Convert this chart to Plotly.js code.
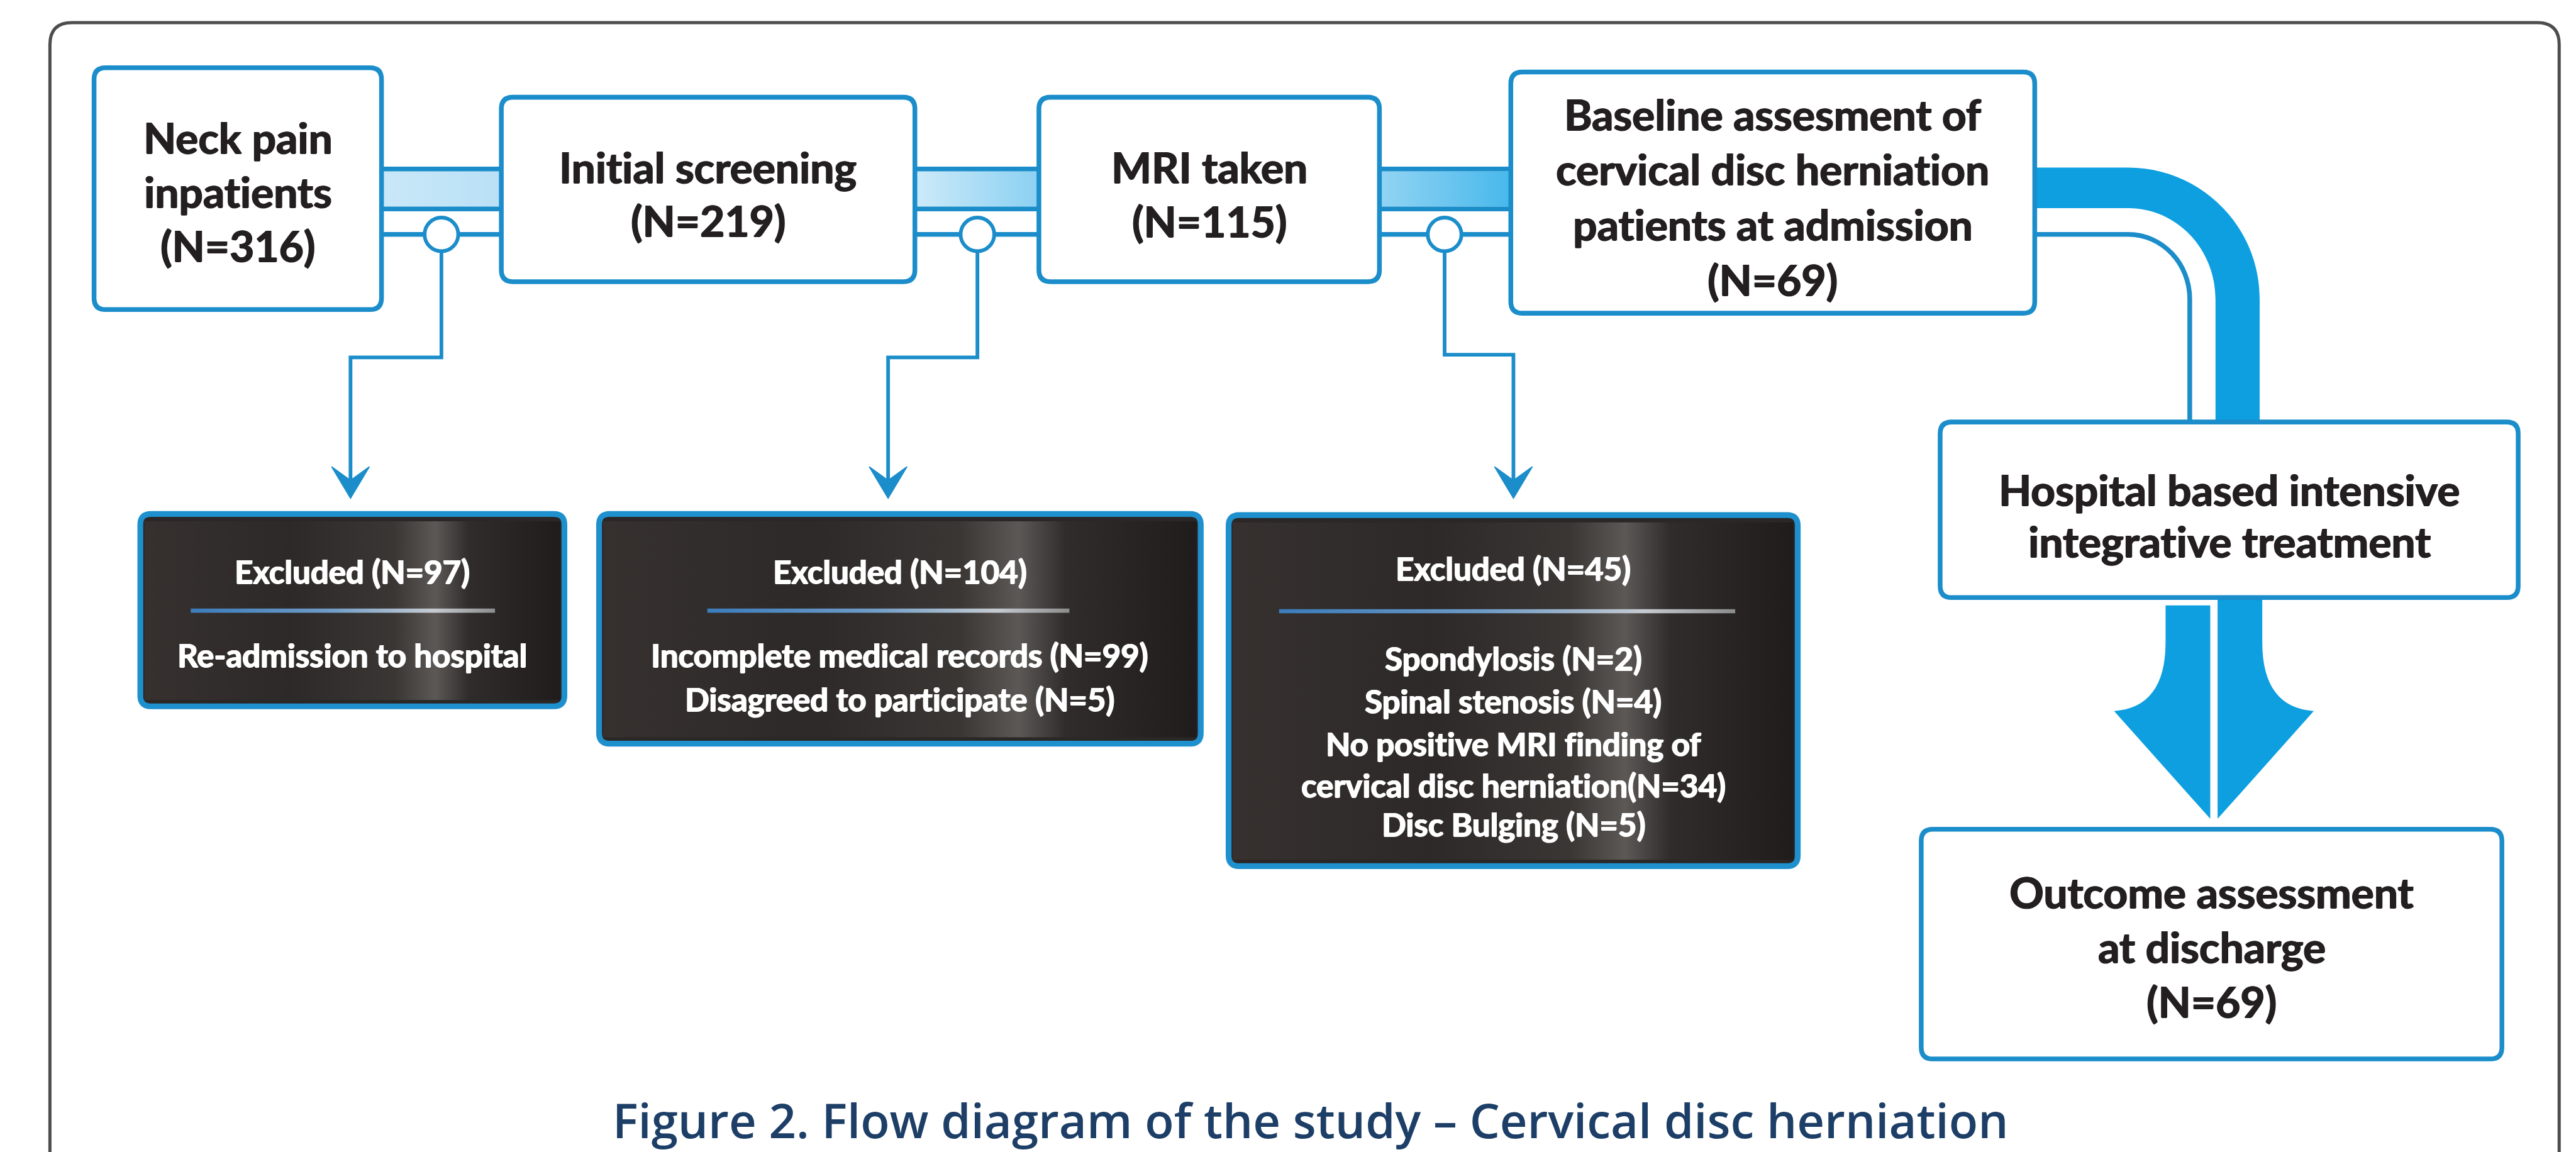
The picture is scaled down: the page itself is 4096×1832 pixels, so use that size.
<!DOCTYPE html>
<html>
<head>
<meta charset="utf-8">
<script src="https://cdn.plot.ly/plotly-3.0.1.min.js"></script>
<style>
html,body{margin:0;padding:0;background:#fff;overflow:hidden}
#chart{width:4096px;height:1832px}
svg text{font-variant-ligatures:none;font-feature-settings:"liga" 0,"clig" 0;}
</style>
</head>
<body>
<div id="chart"></div>
<script>
// ---------------- DATA ----------------
const stageLabels = [
  "Neck pain<br>inpatients",
  "Initial screening",
  "MRI taken",
  "Baseline assesment of<br>cervical disc herniation<br>patients at admission",
  "Hospital based intensive<br>integrative treatment",
  "Outcome assessment<br>at discharge"
];
const stageN = [316, 219, 115, 69, null, 69];
const excludedN = [97, 104, 45];
const excludedReasons = [
  ["Re-admission to hospital"],
  ["Incomplete medical records (N=99)", "Disagreed to participate (N=5)"],
  ["Spondylosis (N=2)", "Spinal stenosis (N=4)", "No positive MRI finding of", "cervical disc herniation(N=34)", "Disc Bulging (N=5)"]
];
const captionText = "Figure 2. Flow diagram of the study \u2013 Cervical disc herniation";

// ---------------- GEOMETRY (reference pixel space 4902 x 2192) ----------------
const S = 4096 / 4902;
const stageBoxes = [
  [179, 129, 726, 589],
  [954, 185, 1741, 536],
  [1977, 185, 2625, 536],
  [2875, 137, 3872, 596],
  [3692, 803, 4792, 1137],
  [3656, 1578, 4761, 2015]
];
const stageTextY = [363, 367, 368, 373, 979, 1800];
const stageLineGap = [103, 102, 102, 105, 98, 104];
const excludedBoxes = [
  [267, 978, 1074, 1344],
  [1140, 978, 2285, 1415],
  [2338, 980, 3421, 1648]
];
const exTitleY = [1087, 1087, 1081];
const exDividerY = [1162, 1162, 1163];
const exDividerX = [[363, 942], [1346, 2035], [2434, 3302]];
const exReasonY = [[1246], [1246, 1330], [1252, 1334, 1415, 1494, 1568]];
const circleX = [840, 1860, 2749];
const routeX = [[840, 667], [1860, 1690], [2749, 2880]];
const routeY = [680, 680, 675];
const bandFill = [["#c9e8f8", "#b9e0f6"], ["#cdeaf9", "#8bd0f2"], ["#93d4f3", "#47b8ec"]];

const BLUE = "#1b8dca";
const BRIGHT = "#0d9fe0";
const TXT = "#231f20";
const FONT = "Lato, 'Open Sans', sans-serif";
function heavy(c) { return `1px 0px 0px ${c}, -0.8px 0px 0px ${c}, 0px 0.6px 0px ${c}`; }

function rr(b, r) {
  const [x0, y0, x1, y1] = b;
  return `M${x0 + r},${y0} L${x1 - r},${y0} Q${x1},${y0} ${x1},${y0 + r} L${x1},${y1 - r} Q${x1},${y1} ${x1 - r},${y1} L${x0 + r},${y1} Q${x0},${y1} ${x0},${y1 - r} L${x0},${y0 + r} Q${x0},${y0} ${x0 + r},${y0} Z`;
}

const shapes = [];
const traces = [];
const annotations = [];

// outer frame (open at bottom)
shapes.push({type: "path", xref: "x", yref: "y", layer: "above",
  path: "M95,2200 L95,85 Q95,43 137,43 L4828,43 Q4870,43 4870,85 L4870,2200",
  line: {color: "#4d4d4d", width: 6 * S}});

// connectors between first four stages
for (let i = 0; i < 3; i++) {
  const xa = stageBoxes[i][2], xb = stageBoxes[i + 1][0];
  traces.push({type: "scatter", mode: "lines", x: [xa, xb, xb, xa, xa], y: [326, 326, 393, 393, 326],
    fill: "toself", fillcolor: bandFill[i][1],
    fillgradient: {type: "horizontal", colorscale: [[0, bandFill[i][0]], [1, bandFill[i][1]]]},
    line: {width: 0}, hoverinfo: "skip", showlegend: false});
  [321.5, 397.5, 446].forEach(yy => shapes.push({type: "line", xref: "x", yref: "y", layer: "above",
    x0: xa, x1: xb, y0: yy, y1: yy, line: {color: BLUE, width: 9 * S}}));
}

// exclusion routes and arrowheads
for (let i = 0; i < 3; i++) {
  const [cx, ax] = routeX[i], ry = routeY[i];
  shapes.push({type: "path", xref: "x", yref: "y", layer: "above",
    path: `M${cx},478 L${cx},${ry} L${ax},${ry} L${ax},915`, line: {color: BLUE, width: 7 * S}});
  shapes.push({type: "path", xref: "x", yref: "y", layer: "above",
    path: `M${ax},948 L${ax - 36},888 L${ax},914 L${ax + 36},888 Z`, fillcolor: BLUE, line: {color: BLUE, width: 2 * S}});
  shapes.push({type: "circle", xref: "x", yref: "y", layer: "above",
    x0: circleX[i] - 32, x1: circleX[i] + 32, y0: 446 - 32, y1: 446 + 32,
    fillcolor: "#ffffff", line: {color: BLUE, width: 7 * S}});
}

// big curved band from stage 4 to stage 5
const k = 0.5523;
shapes.push({type: "path", xref: "x", yref: "y", layer: "above", fillcolor: BRIGHT, line: {width: 0},
  path: `M3872,319 L4050,319 C${4050 + k * 250},319 4300,${569 - k * 250} 4300,569 L4300,803 L4216,803 L4216,569 C4216,${569 - k * 173} ${4050 + k * 166},396 4050,396 L3872,396 Z`});
shapes.push({type: "path", xref: "x", yref: "y", layer: "above", line: {color: BLUE, width: 9 * S},
  path: `M3872,446 L4050,446 C${4050 + k * 117},446 4167,${569 - k * 123} 4167,569 L4167,803`});

// big split down arrow from stage 5 to stage 6
shapes.push({type: "path", xref: "x", yref: "y", layer: "above", fillcolor: BRIGHT, line: {width: 0},
  path: "M4121,1152 L4121,1222 Q4121,1346 4023,1353 L4206,1558 L4206,1152 Z"});
shapes.push({type: "path", xref: "x", yref: "y", layer: "above", fillcolor: BRIGHT, line: {width: 0},
  path: "M4305,1141 L4305,1222 Q4305,1346 4403,1353 L4220,1558 L4220,1141 Z"});

// stage boxes
stageBoxes.forEach((b, i) => {
  shapes.push({type: "path", xref: "x", yref: "y", layer: "above", path: rr(b, 22),
    fillcolor: "#ffffff", line: {color: BLUE, width: 9 * S}});
  const lines = stageLabels[i].split("<br>");
  if (stageN[i] !== null) lines.push("(N=" + stageN[i] + ")");
  const n = lines.length, cx = (b[0] + b[2]) / 2;
  lines.forEach((t, j) => annotations.push({xref: "x", yref: "y", x: cx,
    y: stageTextY[i] + (j - (n - 1) / 2) * stageLineGap[i], text: t, showarrow: false,
    xanchor: "center", yanchor: "middle",
    font: {family: FONT, size: 81 * S, color: TXT, weight: 700, shadow: heavy(TXT)}}));
});

// excluded boxes
excludedBoxes.forEach((b, i) => {
  shapes.push({type: "path", xref: "x", yref: "y", layer: "below", path: rr(b, 20),
    fillcolor: "#2b2726", line: {width: 0}});
  const x0 = b[0] + 8, x1 = b[2] - 8, y0 = b[1] + 14, y1 = b[3] - 12;
  traces.push({type: "scatter", mode: "lines", x: [x0, x1, x1, x0, x0], y: [y0, y0, y1, y1, y0],
    fill: "toself", fillcolor: "#2e2a29",
    fillgradient: {type: "horizontal", colorscale: [[0, "#36312f"], [0.35, "#2d2928"], [0.6, "#3a3634"],
      [0.7, "#5c5856"], [0.78, "#302c2b"], [1, "#201c1b"]]},
    line: {width: 0}, hoverinfo: "skip", showlegend: false});
  const [dx0, dx1] = exDividerX[i], dy = exDividerY[i];
  traces.push({type: "scatter", mode: "lines", x: [dx0, dx1, dx1, dx0, dx0], y: [dy - 4, dy - 4, dy + 4, dy + 4, dy - 4],
    fill: "toself", fillcolor: "#6f9cc6",
    fillgradient: {type: "horizontal", colorscale: [[0, "#3b7cbb"], [0.45, "#6e9bc6"], [0.8, "#c6cbd1"], [1, "#8c8c8c"]]},
    line: {width: 0}, hoverinfo: "skip", showlegend: false});
  shapes.push({type: "path", xref: "x", yref: "y", layer: "above", path: rr(b, 20),
    fillcolor: "rgba(0,0,0,0)", line: {color: "#1e90ce", width: 11 * S}});
  const cx = (b[0] + b[2]) / 2;
  annotations.push({xref: "x", yref: "y", x: cx, y: exTitleY[i], text: "Excluded (N=" + excludedN[i] + ")",
    showarrow: false, xanchor: "center", yanchor: "middle",
    font: {family: FONT, size: 61 * S, color: "#ffffff", weight: 700, shadow: heavy("#ffffff")}});
  excludedReasons[i].forEach((t, j) => annotations.push({xref: "x", yref: "y", x: cx, y: exReasonY[i][j], text: t,
    showarrow: false, xanchor: "center", yanchor: "middle",
    font: {family: FONT, size: 61 * S, color: "#ffffff", weight: 700, shadow: heavy("#ffffff")}}));
});

// caption
annotations.push({xref: "x", yref: "y", x: 2493, y: 2130, text: captionText, showarrow: false,
  xanchor: "center", yanchor: "middle", font: {family: "'Open Sans', Lato, sans-serif", size: 91 * S, color: "#1d3f67", weight: 600}});

const layout = {
  width: 4096, height: 1832, margin: {l: 0, r: 0, t: 0, b: 0, pad: 0},
  paper_bgcolor: "#ffffff", plot_bgcolor: "#ffffff", showlegend: false,
  xaxis: {range: [0, 4902], autorange: false, visible: false, fixedrange: true},
  yaxis: {range: [2192, 0], autorange: false, visible: false, fixedrange: true},
  shapes: shapes, annotations: annotations, hovermode: false
};
Plotly.newPlot("chart", traces, layout, {staticPlot: true, displayModeBar: false});
</script>
</body>
</html>
